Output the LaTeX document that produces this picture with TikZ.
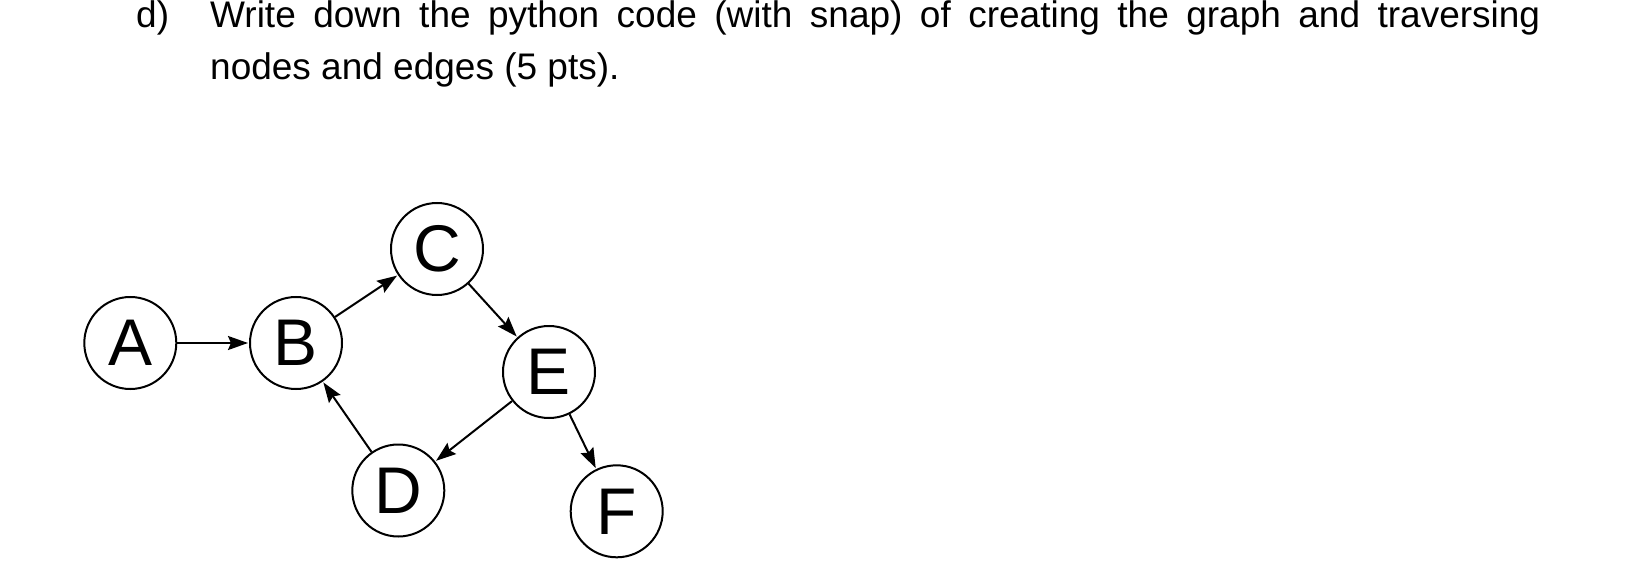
\documentclass[tikz,border=0pt]{standalone}
\usepackage{fontspec}
\setmainfont{Liberation Sans}
\usetikzlibrary{arrows.meta}
\begin{document}
\begin{tikzpicture}[x=1pt,y=-1pt,
  vertex/.style={draw, circle, line width=2pt, minimum size=92pt, inner sep=0pt, font=\fontsize{66}{66}\selectfont},
  edgearrow/.style={line width=2pt, -{Stealth[length=20pt,width=14pt,inset=3pt]}, shorten >=1pt},
  qtext/.style={anchor=base west, inner sep=0pt, font=\fontsize{37}{37}\selectfont}]
\useasboundingbox (0,0) rectangle (1638,572);
\node[qtext] (lbl) at (136,28) {d)};
\node[qtext] (l1) at (210,28) {\makebox[1330pt][s]{Write down the python code (with snap) of creating the graph and traversing}};
\node[qtext] (l2) at (210,80) {nodes and edges (5 pts).};
\node[vertex] (A) at (130.3,343) {A};
\node[vertex] (B) at (296,343) {B};
\node[vertex] (C) at (437,249) {C};
\node[vertex] (E) at (549,372) {E};
\node[vertex] (D) at (398.3,490.5) {D};
\node[vertex] (F) at (616.7,511.3) {F};
\draw[edgearrow] (A) -- (B);
\draw[edgearrow] (B) -- (C);
\draw[edgearrow] (C) -- (E);
\draw[edgearrow] (E) -- (D);
\draw[edgearrow] (D) -- (B);
\draw[edgearrow] (E) -- (F);
\end{tikzpicture}
\end{document}
